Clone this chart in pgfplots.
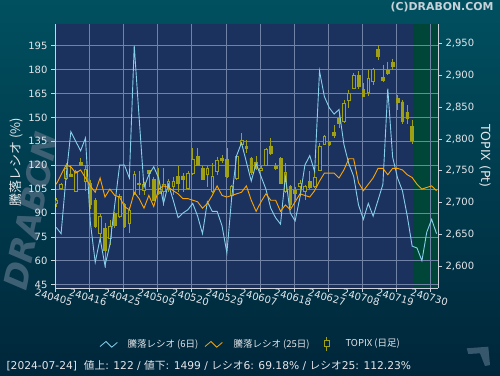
\documentclass[border=0pt]{standalone}
\usepackage{fontspec}
\setmainfont{DejaVu Sans}
\newfontfamily\cjk{Noto Sans CJK JP}
\usepackage{pgfplots}
\pgfplotsset{compat=1.18}
\usepackage{pgfplotstable}

\definecolor{bgtop}{RGB}{0,80,96}
\definecolor{bgbot}{RGB}{0,38,58}
\definecolor{plotbg}{RGB}{27,50,95}
\definecolor{futbg}{RGB}{0,70,56}
\definecolor{gridc}{RGB}{112,130,165}
\definecolor{axc}{RGB}{205,210,220}
\definecolor{txt}{RGB}{228,230,234}
\definecolor{rsix}{RGB}{135,206,235}
\definecolor{rtwf}{RGB}{255,165,0}
\definecolor{cnd}{RGB}{160,160,20}
\definecolor{wm}{RGB}{62,96,116}
\definecolor{copyc}{RGB}{200,210,218}
\definecolor{logoc}{RGB}{55,88,108}

\pgfplotstableread{
i O H L C
0 2699 2708 2694 2704
1 2723 2731 2720 2728
2 2738 2762 2736 2754
3 2745 2759 2740 2741
4 2717 2752 2716 2749
5 2763 2770 2757 2758
6 2733 2759 2718 2752
7 2730 2736 2690 2697
8 2704 2707 2660 2663
9 2652 2683 2642 2678
10 2660 2668 2598 2626
11 2644 2673 2634 2663
12 2683 2686 2661 2665
13 2678 2714 2676 2710
14 2697 2700 2660 2663
15 2667 2694 2653 2688
16 2715 2749 2712 2744
17 2730 2749 2712 2728
18 2720 2733 2712 2729
19 2750 2752 2725 2746
20 2736 2741 2702 2704
21 2718 2754 2712 2714
22 2718 2754 2695 2728
23 2725 2737 2717 2733
24 2726 2741 2712 2733
25 2741 2757 2717 2731
26 2742 2746 2717 2737
27 2723 2749 2720 2746
28 2746 2785 2744 2768
29 2773 2785 2757 2759
30 2754 2757 2736 2737
31 2744 2757 2725 2754
32 2717 2762 2715 2742
33 2749 2772 2744 2767
34 2769 2775 2762 2766
35 2768 2785 2738 2741
36 2712 2728 2702 2725
37 2738 2775 2736 2773
38 2792 2809 2790 2798
39 2788 2798 2778 2785
40 2770 2772 2744 2747
41 2764 2773 2751 2754
42 2751 2757 2749 2754
43 2759 2785 2759 2783
44 2789 2801 2775 2777
45 2757 2762 2751 2754
46 2770 2772 2730 2731
47 2717 2762 2715 2747
48 2725 2728 2691 2698
49 2720 2725 2704 2714
50 2725 2736 2710 2730
51 2717 2728 2704 2725
52 2733 2749 2722 2724
53 2725 2751 2723 2740
54 2751 2793 2749 2788
55 2792 2806 2790 2804
56 2795 2797 2789 2792
57 2810 2822 2801 2806
58 2832 2840 2817 2825
59 2827 2861 2825 2856
60 2860 2877 2848 2872
61 2879 2903 2878 2899
62 2900 2906 2879 2883
63 2878 2887 2865 2866
64 2873 2908 2867 2895
65 2891 2911 2885 2909
66 2940 2947 2923 2929
67 2897 2916 2890 2892
68 2907 2921 2900 2903
69 2920 2926 2908 2914
70 2863 2869 2845 2858
71 2858 2861 2824 2827
72 2842 2853 2824 2832
73 2820 2830 2792 2798
}\candles

\pgfplotstableread{
i r6 r25
0 81 108
1 77 114
2 112 120
3 141 119
4 135 115
5 129 117
6 137 112
7 84 107
8 59 103
9 74 112
10 57 100
11 70 105
12 95 101
13 120 100
14 120 94
15 112 92
16 195 103
17 150 99
18 106 93
19 114 101
20 119 94
21 112 105
22 96 107
23 108 106
24 98 104
25 87 102
26 90 99
27 92 99
28 96 98
29 88 97
30 77 93
31 97 96
32 91 101
33 91 107
34 82 101
35 65 100
36 100 101
37 126 102
38 134 103
39 122 107
40 110 98
41 121 91
42 113 97
43 105 102
44 93 98
45 87 98
46 83 91
47 113 95
48 90 92
49 85 97
50 100 102
51 120 101
52 126 100
53 116 104
54 179 110
55 163 115
56 156 115
57 152 115
58 155 112
59 133 117
60 121 124
61 113 124
62 95 109
63 86 104
64 96 108
65 88 112
66 98 118
67 108 118
68 168 114
69 125 118
70 112 118
71 104 117
72 88 114
73 69.18 112.23
74 68 108
75 60 105
76 78 106
77 86 107
78 77 104
}\ratios

\pgfplotsset{
  base/.style={
    at={(55pt,87pt)}, anchor=south west, scale only axis,
    width=383pt, height=264pt,
    xmin=-0.25, xmax=78.3,
    /pgf/number format/assume math mode=true,
    ticklabel style={text=txt, font=\fontsize{10}{12}\selectfont},
    tick style={axc, line width=0.6pt},
    tick align=outside, major tick length=4pt,
    axis line style={axc, line width=0.8pt, -},
  },
  ratioy/.style={ymin=42.9, ymax=208.6},
  topixy/.style={ymin=2566.2, ymax=2980.2},
}

\begin{document}
\begin{tikzpicture}[x=1pt,y=1pt]
\shade[top color=bgtop, bottom color=bgbot] (0,0) rectangle (500,375);
\useasboundingbox (0,0) rectangle (500,375);

% watermark
\node[rotate=78, text=wm, font=\bfseries\itshape\fontsize{33}{33}\selectfont] at (31,164) {DRABON};

% backgrounds
\begin{axis}[base, ratioy, hide axis]
  \fill[plotbg] (rel axis cs:0,0) rectangle (rel axis cs:1,1);
  \fill[futbg] (axis cs:73.2,42.9) rectangle (rel axis cs:1,1);
\end{axis}

% ratio axis: grid, left ticks, x ticks
\begin{axis}[base, ratioy,
  axis x line*=bottom, axis y line*=left,
  ytick={45,60,...,195},
  xtick={-0.2,6.8,13.8,20.8,27.8,34.8,41.8,48.8,55.8,62.8,69.8,76.8},
  xticklabels={240405,240416,240425,240509,240520,240529,240607,240618,240627,240708,240719,240730},
  x tick label style={rotate=-15, anchor=north, inner sep=1.5pt},
  grid=major, grid style={gridc, line width=0.6pt},
]
\end{axis}

% TOPIX wicks and right axis
\begin{axis}[base, topixy,
  axis x line=none, axis y line*=right,
  ytick={2600,2650,...,2950},
  yticklabel style={/pgf/number format/.cd, 1000 sep={,}},
]
\addplot[draw=none, mark=none, forget plot,
  error bars/.cd, y dir=minus, y explicit, error mark=none,
  error bar style={draw=cnd, line width=0.7pt}]
  table[x=i, y=H, y error minus expr={\thisrow{H}-\thisrow{L}}] {\candles};
\end{axis}

% TOPIX bodies
\begin{axis}[base, topixy, hide axis, ybar stacked, bar width=0.56]
\addplot[draw=none, fill=none] table[x=i, y expr={min(\thisrow{O},\thisrow{C})}] {\candles};
\addplot[draw=cnd, fill=plotbg, line width=0.7pt] table[x=i, y expr={max(\thisrow{C}-\thisrow{O},0)}] {\candles};
\addplot[draw=cnd, fill=cnd, line width=0.7pt] table[x=i, y expr={max(\thisrow{O}-\thisrow{C},0)}] {\candles};
\end{axis}

% ratio lines
\begin{axis}[base, ratioy, hide axis]
\addplot[rsix, line width=0.9pt, mark=none] table[x=i, y=r6] {\ratios};
\addplot[rtwf, line width=0.9pt, mark=none] table[x=i, y=r25] {\ratios};
\end{axis}

% axis titles
\node[rotate=90, text=txt, font=\cjk\fontsize{13}{15}\selectfont] at (16,213) {騰落レシオ (\%)};
\node[rotate=-90, text=txt, font=\fontsize{12.5}{15}\selectfont] at (485,219) {TOPIX (Pt)};

% copyright
\node[anchor=east, text=copyc, font=\bfseries\fontsize{10.9}{12}\selectfont] at (497,367.5) {(C)DRABON.COM};

% legend
\draw[rsix, line width=0.8pt] (100,28.5) -- (106,33.5) -- (111.7,27.8) -- (117.3,32.5);
\node[anchor=west, text=txt, font=\cjk\fontsize{9.5}{11}\selectfont] at (124,31) {騰落レシオ (6日)};
\draw[rtwf, line width=0.8pt] (205,28.5) -- (211,33.5) -- (216.7,27.8) -- (222.3,32.5);
\node[anchor=west, text=txt, font=\cjk\fontsize{9.5}{11}\selectfont] at (230,31) {騰落レシオ (25日)};
\draw[cnd, line width=0.8pt] (326.7,24.5) -- (326.7,38);
\draw[cnd, fill=bgbot, line width=0.8pt] (324.2,28.3) rectangle (329.2,34.3);
\node[anchor=west, text=txt, font=\cjk\fontsize{9.5}{11}\selectfont] at (342,31) {TOPIX (日足)};

% status line
\node[anchor=west, text=txt, font=\fontsize{10.7}{12}\selectfont] at (3,9.5)
  {[2024-07-24]\ \ {\cjk 値上}: 122 / {\cjk 値下}: 1499 / {\cjk レシオ}6: 69.18\% / {\cjk レシオ}25: 112.23\%};

% small logo
\fill[logoc] (466.7,26.7) -- (488.3,28.3) -- (490,10) -- (485,9) -- (480,21.7) -- (468.3,21) -- cycle;
\end{tikzpicture}
\end{document}
